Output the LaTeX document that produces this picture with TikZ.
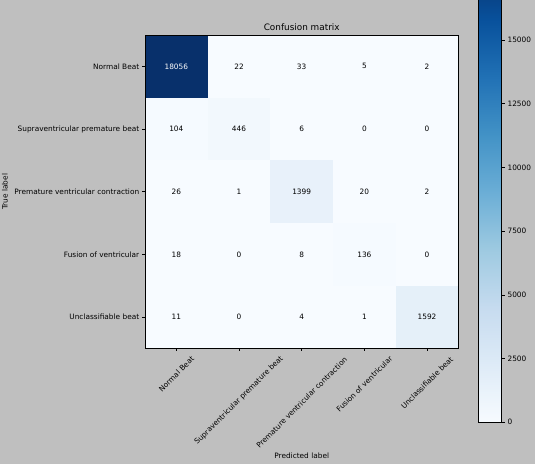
\documentclass[tikz,border=0pt]{standalone}
\usepackage{fontspec}
\setmainfont{DejaVu Sans}
\usetikzlibrary{positioning,calc}

\definecolor{figbg}{RGB}{191,191,191}
% Blues colour map stops
\definecolor{bluesA}{HTML}{F7FBFF}
\definecolor{bluesB}{HTML}{DEEBF7}
\definecolor{bluesC}{HTML}{C6DBEF}
\definecolor{bluesD}{HTML}{9ECAE1}
\definecolor{bluesE}{HTML}{6BAED6}
\definecolor{bluesF}{HTML}{4292C6}
\definecolor{bluesG}{HTML}{2171B5}
\definecolor{bluesH}{HTML}{08519C}
\definecolor{bluesI}{HTML}{08306B}
% cell fills
\definecolor{cellhi}{HTML}{08306B}
\definecolor{cellsv}{RGB}{242,248,253}
\definecolor{cellpv}{RGB}{232,241,250}
\definecolor{cellfv}{RGB}{245,250,255}
\definecolor{cellub}{RGB}{229,240,249}

\tikzset{
  lab/.style={font=\fontsize{7.4}{9}\selectfont, text=black, inner sep=0pt},
  cell/.style={lab, minimum width=62.67bp, minimum height=62.67bp, outer sep=0pt},
  axline/.style={line width=0.6bp, draw=black},
}

\begin{document}
\begin{tikzpicture}[x=1bp, y=-1bp]
  \fill[figbg] (0,0) rectangle (535,464);
  \useasboundingbox (0,0) rectangle (535,464);

  % matrix cells
  \foreach \r/\c/\v/\f/\t in {0/0/18056/cellhi/white, 0/1/22/bluesA/black, 0/2/33/bluesA/black, 0/3/5/bluesA/black, 0/4/2/bluesA/black,
      1/0/104/cellfv/black, 1/1/446/cellsv/black, 1/2/6/bluesA/black, 1/3/0/bluesA/black, 1/4/0/bluesA/black,
      2/0/26/bluesA/black, 2/1/1/bluesA/black, 2/2/1399/cellpv/black, 2/3/20/bluesA/black, 2/4/2/bluesA/black,
      3/0/18/bluesA/black, 3/1/0/bluesA/black, 3/2/8/bluesA/black, 3/3/136/cellfv/black, 3/4/0/bluesA/black,
      4/0/11/bluesA/black, 4/1/0/bluesA/black, 4/2/4/bluesA/black, 4/3/1/bluesA/black, 4/4/1592/cellub/black}
    \node[cell, fill=\f, text=\t] (cell-\r-\c) at ({145+62.67*(\c+0.5)},{35+62.67*(\r+0.5)}) {\v};

  \draw[axline] (cell-0-0.north west) rectangle (cell-4-4.south east);

  % y ticks
  \foreach \r/\name in {0/Normal Beat, 1/Supraventricular premature beat, 2/Premature ventricular contraction, 3/Fusion of ventricular, 4/Unclassifiable beat} {
    \draw[axline] (cell-\r-0.west) -- ++(-3,0);
    \node[lab, left=5.6bp of cell-\r-0] (ylab-\r) {\name};
  }

  % x ticks
  \foreach \c/\name/\yc in {0/Normal Beat/374, 1/Supraventricular premature beat/400.5, 2/Premature ventricular contraction/402.5, 3/Fusion of ventricular/384, 4/Unclassifiable beat/382.7} {
    \draw[axline] (cell-4-\c.south) -- ++(0,3);
    \node[lab, rotate=45] (xlab-\c) at ($(cell-4-\c.south)+(0,{\yc-348.3})$) {\name};
  }

  \node[lab, rotate=90] (ylabel) at (5,191.7) {True label};
  \node[lab] (xlabel) at (301.7,455.7) {Predicted label};
  \node[font=\fontsize{8.9}{10}\selectfont, anchor=base, inner sep=0pt] (title) at (301.7,30.8) {Confusion matrix};

  % colour bar
  \begin{scope}
    \clip (478.3,0) rectangle (501.7,422.3);
    \foreach \k/\lo/\hi in {0/bluesA/bluesB, 1/bluesB/bluesC, 2/bluesC/bluesD, 3/bluesD/bluesE, 4/bluesE/bluesF, 5/bluesF/bluesG, 6/bluesG/bluesH, 7/bluesH/bluesI}
      \shade[bottom color=\lo, top color=\hi] (478.3,{422.3-57.52*\k+0.3}) rectangle (501.7,{422.3-57.52*(\k+1)});
  \end{scope}
  \draw[axline] (478.3,0) -- (478.3,422.3) -- (501.7,422.3) -- (501.7,0);
  \foreach \v in {0,2500,5000,7500,10000,12500,15000}
    \draw[axline] (501.7,{422.3-\v/2500*63.72}) -- ++(3,0) node[lab, right=2.6bp] (cb-\v) {\v};
\end{tikzpicture}
\end{document}
